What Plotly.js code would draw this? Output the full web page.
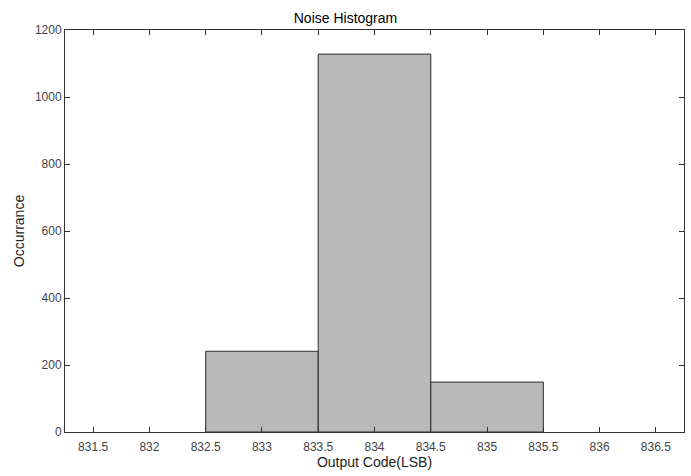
<!DOCTYPE html>
<html>
<head>
<meta charset="utf-8">
<script src="https://cdn.plot.ly/plotly-3.0.1.min.js"></script>
<style>html,body{margin:0;padding:0;background:#fff;}#chart{width:691px;height:476px;}</style>
</head>
<body>
<div id="chart"></div>
<script>
// Data
const binCenters = [833, 834, 835];
const counts = [241, 1128, 149];
const binWidth = [1, 1, 1];
const xTickVals = [831.5, 832, 832.5, 833, 833.5, 834, 834.5, 835, 835.5, 836, 836.5];
const xTickText = ['831.5', '832', '832.5', '833', '833.5', '834', '834.5', '835', '835.5', '836', '836.5'];
const yTickVals = [0, 200, 400, 600, 800, 1000, 1200];

const fontFam = 'Liberation Sans, Arial, sans-serif';

const trace = {
  type: 'bar',
  x: binCenters,
  y: counts,
  width: binWidth,
  marker: {color: '#b9b9b9', line: {color: '#2a2a2a', width: 1}},
  hoverinfo: 'x+y'
};

const layout = {
  width: 691, height: 476,
  margin: {l: 65, r: 7, t: 30, b: 44},
  paper_bgcolor: '#ffffff', plot_bgcolor: '#ffffff',
  showlegend: false,
  bargap: 0,
  title: {text: 'Noise Histogram', font: {family: fontFam, size: 14, color: '#000'}, x: 0.5, xanchor: 'center', y: 0.962, yanchor: 'middle'},
  xaxis: {
    range: [831.25, 836.75],
    tickmode: 'array', tickvals: xTickVals, ticktext: xTickText,
    ticks: 'inside', ticklen: 5, tickwidth: 1, tickcolor: '#333',
    showline: true, linecolor: '#333', linewidth: 1, mirror: 'ticks',
    showgrid: false, zeroline: false,
    ticklabelstandoff: 4,
    tickfont: {family: fontFam, size: 12, color: '#444'},
    title: {text: 'Output Code(LSB)', font: {family: fontFam, size: 14, color: '#222'}, standoff: 3}
  },
  yaxis: {
    range: [0, 1200],
    tickmode: 'array', tickvals: yTickVals,
    ticks: 'inside', ticklen: 5, tickwidth: 1, tickcolor: '#333',
    showline: true, linecolor: '#333', linewidth: 1, mirror: 'ticks',
    showgrid: false, zeroline: false,
    tickfont: {family: fontFam, size: 12, color: '#444'},
    title: {text: 'Occurrance', font: {family: fontFam, size: 14, color: '#222'}, standoff: 6}
  }
};

Plotly.newPlot('chart', [trace], layout, {displayModeBar: false, staticPlot: true});
</script>
</body>
</html>
